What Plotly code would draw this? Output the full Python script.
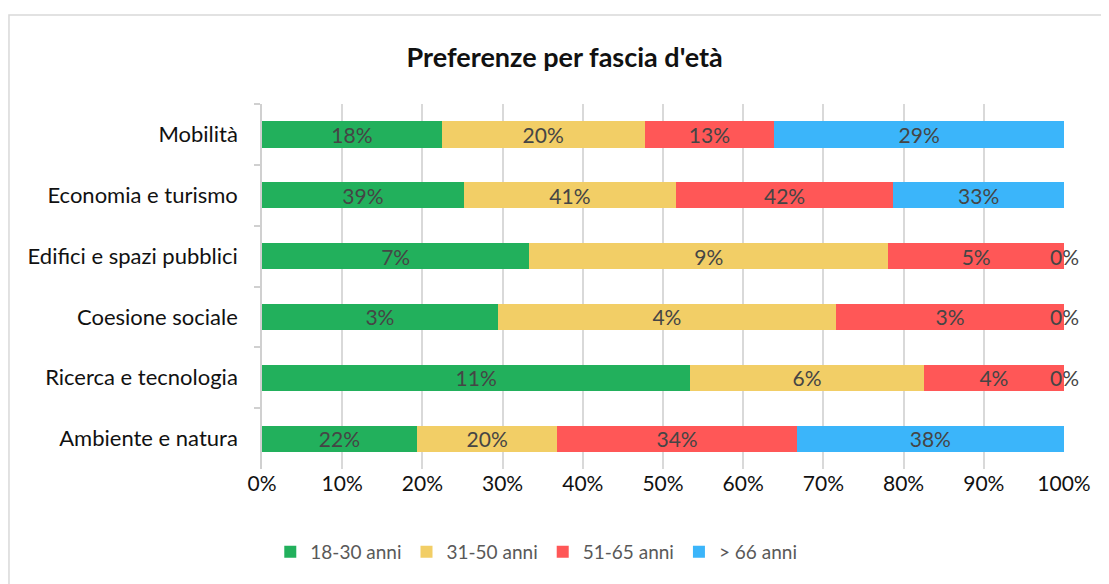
import plotly.graph_objects as go

categories = ["Mobilità", "Economia e turismo", "Edifici e spazi pubblici",
              "Coesione sociale", "Ricerca e tecnologia", "Ambiente e natura"]
series_names = ["18-30 anni", "31-50 anni", "51-65 anni", "> 66 anni"]
v_18_30 = [18.0, 39.0, 7.0, 3.0, 11.0, 22.0]
v_31_50 = [20.3, 41.0, 9.4, 4.3, 6.0, 20.0]
v_51_65 = [13.0, 42.0, 4.6, 2.9, 3.6, 34.0]
v_66 = [29.0, 33.0, 0.0, 0.0, 0.0, 38.0]
colors = ["#22B05C", "#F2CE66", "#FF5757", "#3BB5FA"]

series = [v_18_30, v_31_50, v_51_65, v_66]
FONT = "Lato"
LABEL_COLOR = "#454545"

fig = go.Figure()
for name, vals, col in zip(series_names, series, colors):
    fig.add_trace(go.Bar(
        y=categories, x=vals, name=name, orientation="h",
        marker=dict(color=col, line=dict(width=0)),
        text=[f"{v:.0f}%" if v > 0 else "" for v in vals],
        textposition="inside", insidetextanchor="middle", constraintext="none",
        textfont=dict(family=FONT, size=21, color=LABEL_COLOR),
        hoverinfo="skip",
    ))

# labels for zero-valued segments (drawn at their cumulative position)
annotations = []
for i, cat in enumerate(categories):
    total = sum(s[i] for s in series)
    cum = 0
    for s in series:
        cum += s[i]
        if s[i] == 0:
            annotations.append(dict(
                x=cum / total * 100, y=cat, xref="x", yref="y",
                text="0%", showarrow=False, xanchor="center",
                font=dict(family=FONT, size=21, color=LABEL_COLOR)))

fig.update_layout(
    barmode="stack", barnorm="percent", bargap=0.57,
    width=1109, height=584,
    margin=dict(l=254, r=53, t=96, b=123),
    paper_bgcolor="white", plot_bgcolor="white",
    title=dict(text="<b>Preferenze per fascia d'età</b>", x=0.502, xanchor="center",
               y=0.916, yanchor="middle",
               font=dict(family=FONT, size=27, color="#111111")),
    font=dict(family=FONT, size=21, color="#111111"),
    xaxis=dict(range=[0, 100], tickvals=list(range(0, 101, 10)),
               ticktext=[f"{t}%" for t in range(0, 101, 10)],
               showgrid=True, gridcolor="#D9D9D9", gridwidth=1.5,
               zeroline=False, showline=False, ticks="",
               tickfont=dict(family=FONT, size=21, color="#111111")),
    yaxis=dict(autorange="reversed", showline=True, linecolor="#D0D0D0", linewidth=1.5,
               ticks="outside", tickson="boundaries", ticklen=6, tickcolor="#D0D0D0",
               tickwidth=1.5, ticklabelstandoff=18, showgrid=False,
               tickfont=dict(family=FONT, size=22, color="#111111")),
    legend=dict(orientation="h", x=0.342, xanchor="center", y=-0.227, yanchor="middle",
                traceorder="normal",
                font=dict(family=FONT, size=19, color="#595959"),
                itemwidth=30),
    annotations=annotations,
    shapes=[dict(type="rect", xref="paper", yref="paper",
                 x0=-0.3155, x1=1.2, y0=-0.5, y1=1.2438,
                 line=dict(color="#D9D9D9", width=1.5), fillcolor="rgba(0,0,0,0)",
                 layer="below")],
)

fig.write_html("out.html")
